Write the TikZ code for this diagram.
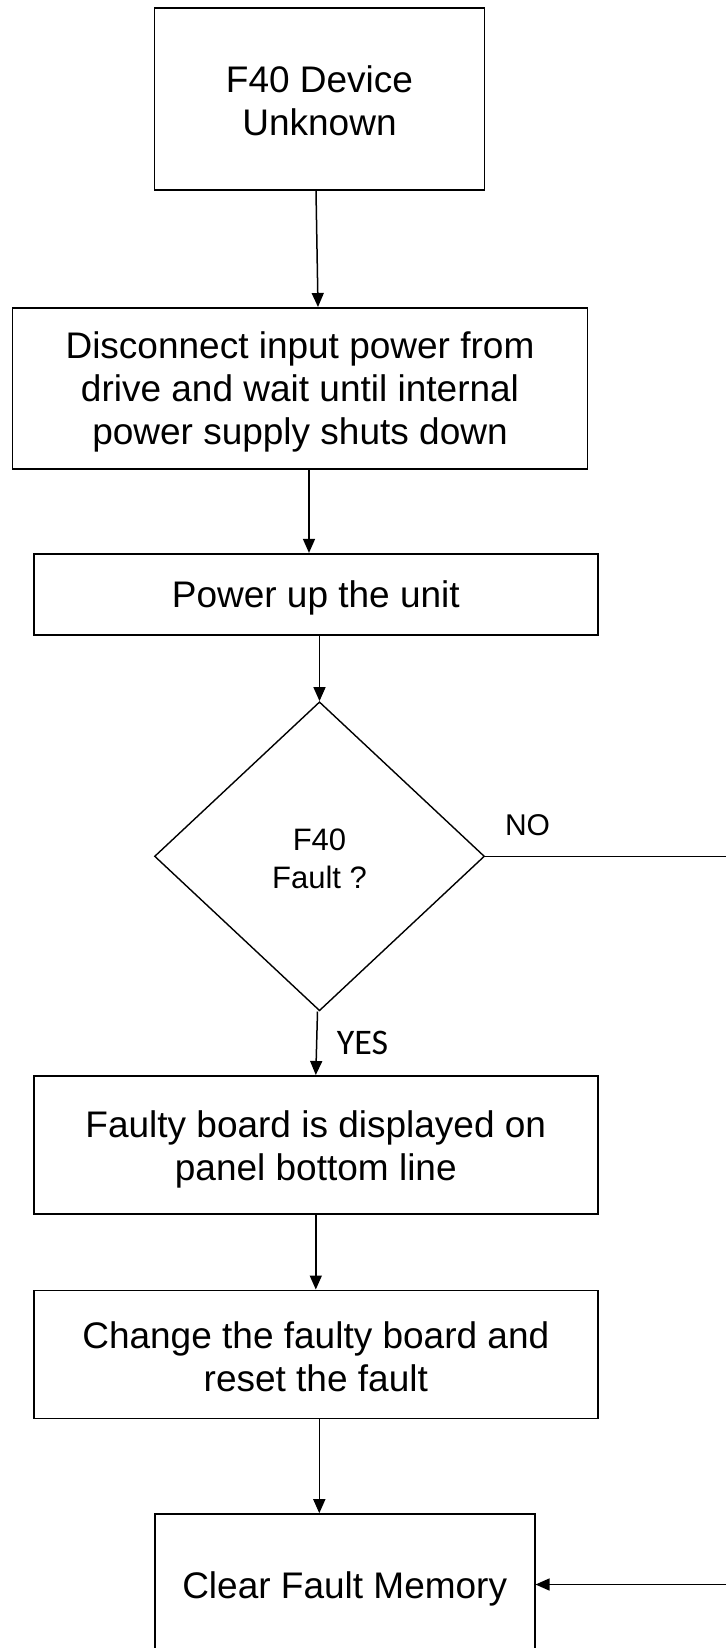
\documentclass[tikz,border=0pt]{standalone}
\usepackage{fontspec}
\setmainfont{Liberation Sans}
\newfontfamily\calibrifont{Carlito}
\usetikzlibrary{shapes.geometric,arrows.meta}
\newcommand\topgap[1]{\rule{0pt}{#1}}
\tikzset{
  box/.style={draw, line width=1.6pt, inner sep=0pt, align=center,
    font=\fontsize{37}{43}\selectfont},
  decision/.style={draw, diamond, line width=1.4pt, inner sep=0pt, align=center,
    font=\fontsize{31}{38}\selectfont},
  arr/.style={line width=1.5pt, -{Triangle[length=14pt,width=12pt]}},
  conn/.style={line width=1.5pt},
  lbl/.style={inner sep=0pt, font=\fontsize{30}{36}\selectfont},
  lblc/.style={inner sep=0pt, font=\calibrifont\fontsize{36}{42}\selectfont}
}
\begin{document}
\begin{tikzpicture}[x=1pt,y=-1pt]
\useasboundingbox (0,0) rectangle (726,1648);
\node[box, minimum width=330pt, minimum height=182pt] (start) at (319.5,99.3) {\topgap{29pt}F40 Device\\Unknown};
\node[box, minimum width=575pt, minimum height=161pt] (disc) at (300,388.3) {\topgap{35pt}Disconnect input power from\\drive and wait until internal\\power supply shuts down};
\node[box, minimum width=564pt, minimum height=81pt] (power) at (315.8,594.2) {\topgap{35pt}Power up the unit};
\node[decision, minimum width=330pt, minimum height=309pt] (dia) at (319.5,856.3) {\topgap{27pt}F40\\Fault ?};
\node[box, minimum width=564pt, minimum height=138pt] (faulty) at (315.8,1144.8) {\topgap{36pt}Faulty board is displayed on\\panel bottom line};
\node[box, minimum width=564pt, minimum height=128pt] (change) at (315.8,1354.3) {\topgap{31pt}Change the faulty board and\\reset the fault};
\node[box, minimum width=380pt, minimum height=141pt] (clear) at (344.7,1584.5) {\topgap{35pt}Clear Fault Memory};
\coordinate (noend) at (726,856.3);
\coordinate (retstart) at (726,1584.5);
\node[lbl] (nolbl) at (527.5,824.8) {NO};
\node[lblc] (yeslbl) at (362.5,1043.3) {YES};
\draw[arr] ([xshift=-3.5pt]start.south) -- ([xshift=18pt]disc.north);
\draw[arr] ([xshift=9pt]disc.south) -- ([xshift=9pt]disc.south |- power.north);
\draw[arr] (power.south -| dia.north) -- (dia.north);
\draw[conn] (dia.east) -- (noend);
\draw[arr] ([xshift=-2pt]dia.south) -- ([xshift=0pt]faulty.north);
\draw[arr] (faulty.south) -- (change.north);
\draw[arr] ([xshift=3.5pt]change.south) -- ([xshift=3.5pt]change.south |- clear.north);
\draw[arr] (retstart) -- (clear.east);
\end{tikzpicture}
\end{document}
